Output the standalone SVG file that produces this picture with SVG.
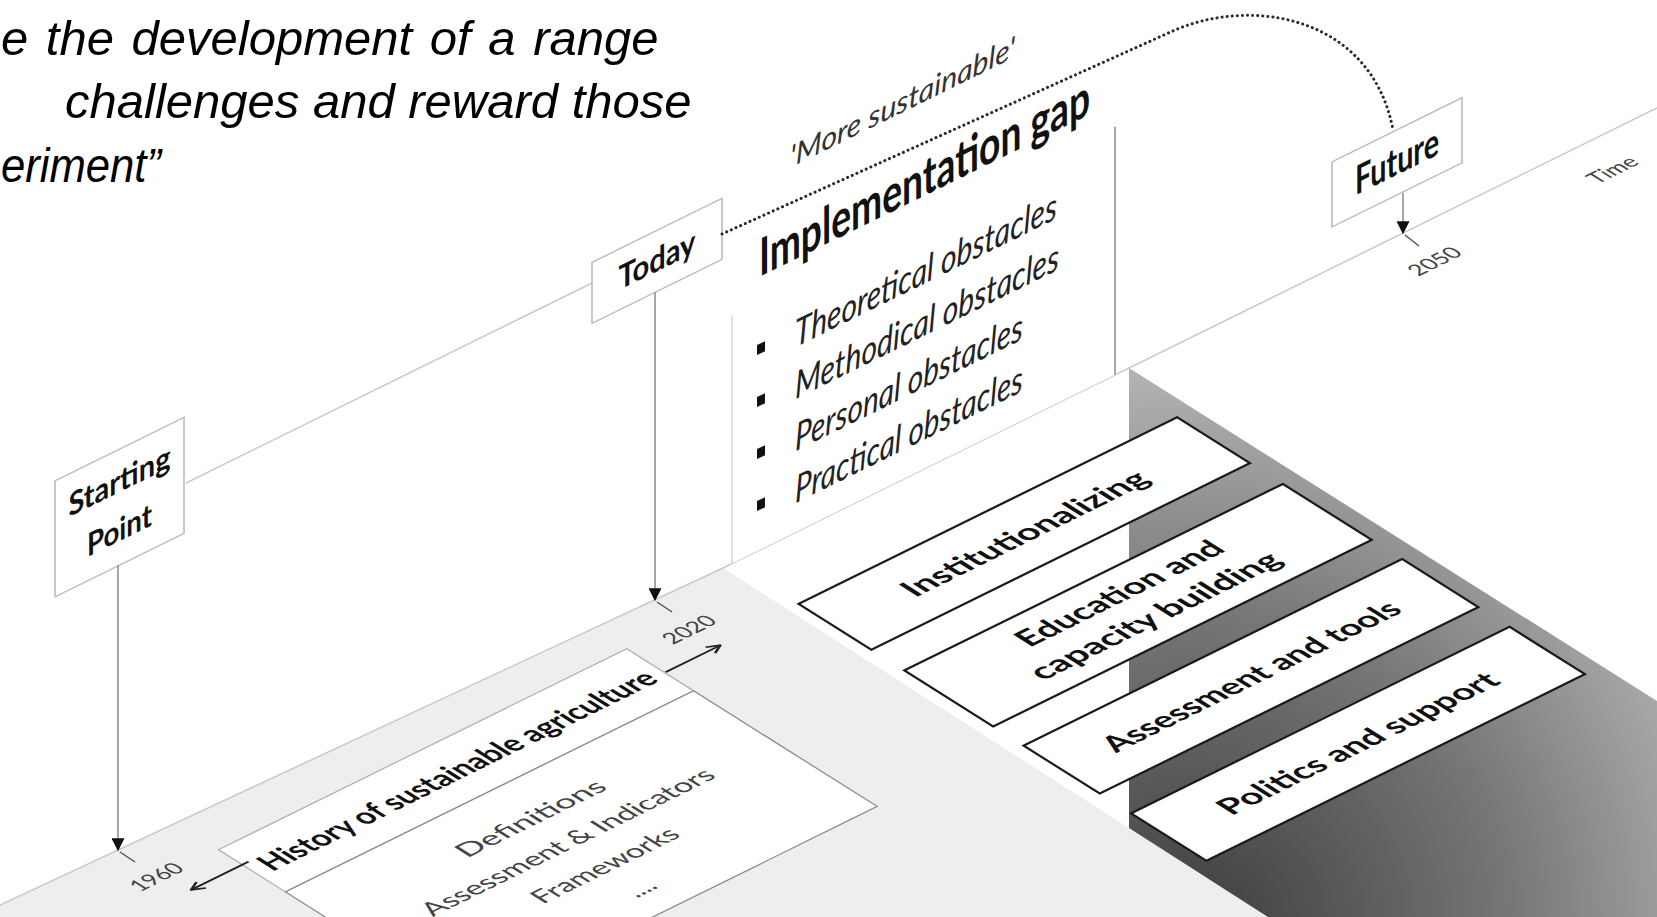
<svg xmlns="http://www.w3.org/2000/svg" width="1657" height="917" viewBox="0 0 1657 917">
<defs>
  <radialGradient id="darkGrad" gradientUnits="userSpaceOnUse" cx="1190" cy="935" r="640">
    <stop offset="0" stop-color="#3c3c3c"/>
    <stop offset="0.5" stop-color="#767676"/>
    <stop offset="1" stop-color="#c6c6c6"/>
  </radialGradient>
  <marker id="ahDown" viewBox="0 0 10 10" refX="9" refY="5" markerWidth="14" markerHeight="13" markerUnits="userSpaceOnUse" orient="auto">
    <path d="M0,0 L10,5 L0,10 z" fill="#111"/>
  </marker>
  <marker id="ahOpen" viewBox="0 0 10 10" refX="9" refY="5" markerWidth="14" markerHeight="14" markerUnits="userSpaceOnUse" orient="auto">
    <path d="M1,1 L9,5 L1,9" fill="none" stroke="#222" stroke-width="1.6"/>
  </marker>
</defs>
<style>
  .q { font-family: 'Liberation Sans', Arial, sans-serif; font-style: italic; font-size: 49px; fill: #000; }
  .axis { stroke: #c9c9c9; stroke-width: 1.5; fill: none; }
  .pole { stroke: #8a8a8a; stroke-width: 1.5; fill: none; }
  .tick { stroke: #555; stroke-width: 1.5; fill: none; }
  .sign { fill: #fff; stroke: #bcbcbc; stroke-width: 1.6; }
  .signt { font-family: Lato, 'Open Sans', sans-serif; font-weight: 700; fill: #111; text-anchor: middle; }
  .title { font-family: Lato, 'Open Sans', sans-serif; font-weight: 700; fill: #111; }
  .obs { font-family: Lato, 'Open Sans', sans-serif; font-style: italic; font-size: 38px; fill: #222; }
  .more { font-family: Lato, 'Open Sans', sans-serif; font-style: italic; font-size: 30px; fill: #333; }
  .box { fill: #fff; stroke: #1a1a1a; stroke-width: 2.6; }
  .boxt { font-family: Lato, 'Open Sans', sans-serif; font-weight: 700; font-size: 31px; fill: #111; text-anchor: middle; }
  .htitle { fill: #fff; stroke: #b0b0b0; stroke-width: 1.5; }
  .hcont { fill: #fff; stroke: #8c8c8c; stroke-width: 1.5; }
  .cont { font-family: Lato, 'Open Sans', sans-serif; font-size: 26px; fill: #444; text-anchor: middle; }
  .lbl { font-family: Lato, 'Open Sans', sans-serif; font-size: 22px; fill: #444; text-anchor: middle; }
  .bullet { fill: #111; }
  .dots { fill: none; stroke: #2a2a2a; stroke-width: 3; stroke-dasharray: 0.1 5; stroke-linecap: round; }
  .garrow { stroke: #222; stroke-width: 2.2; fill: none; }
</style>

<rect x="0" y="0" width="1657" height="917" fill="#fff"/>

<!-- floors -->
<g id="floors">
  <polygon points="1129,368 1657,701 1657,917 1129,917" fill="url(#darkGrad)"/>
  <polygon points="0,905 723,568 1268,917 0,917" fill="#eeeeee"/>
  <polyline class="axis" points="0,905 723,568 1657,108"/>
  <line class="axis" x1="186" y1="483" x2="592" y2="283"/>
</g>

<!-- ground plane nodes -->
<g id="hist-title" transform="matrix(0.897,-0.442,0.846,0.533,0,0)">
  <rect class="htitle" x="-707" y="1008" width="455" height="79"/>
  <text class="boxt" x="-479" y="1059" font-size="32" textLength="432" lengthAdjust="spacingAndGlyphs">History of sustainable agriculture</text>
</g>
<g id="hist-content" transform="matrix(0.897,-0.442,0.846,0.533,0,0)">
  <rect class="hcont" x="-707" y="1087" width="455" height="217"/>
  <text class="cont" x="-481" y="1146" textLength="158" lengthAdjust="spacingAndGlyphs">Definitions</text>
  <text class="cont" x="-481" y="1190" textLength="317" lengthAdjust="spacingAndGlyphs">Assessment &amp; Indicators</text>
  <text class="cont" x="-481" y="1234" textLength="155" lengthAdjust="spacingAndGlyphs">Frameworks</text>
  <text class="cont" x="-481" y="1276">....</text>
</g>
<g id="box-inst" transform="matrix(0.897,-0.442,0.846,0.533,0,0)">
  <rect class="box" x="-100" y="1050" width="422" height="86"/>
  <text class="boxt" x="111" y="1104" textLength="264" lengthAdjust="spacingAndGlyphs">Institutionalizing</text>
</g>
<g id="box-edu" transform="matrix(0.897,-0.442,0.846,0.533,0,0)">
  <rect class="box" x="-100" y="1175" width="422" height="105"/>
  <text class="boxt" x="111" y="1216" textLength="220" lengthAdjust="spacingAndGlyphs">Education and</text>
  <text class="boxt" x="111" y="1258" textLength="269" lengthAdjust="spacingAndGlyphs">capacity building</text>
</g>
<g id="box-assess" transform="matrix(0.897,-0.442,0.846,0.533,0,0)">
  <rect class="box" x="-100" y="1316" width="422" height="90"/>
  <text class="boxt" x="111" y="1372" textLength="321" lengthAdjust="spacingAndGlyphs">Assessment and tools</text>
</g>
<g id="box-politics" transform="matrix(0.897,-0.442,0.846,0.533,0,0)">
  <rect class="box" x="-100" y="1443" width="422" height="89"/>
  <text class="boxt" x="111" y="1498" textLength="302" lengthAdjust="spacingAndGlyphs">Politics and support</text>
</g>
<g id="time-labels" transform="matrix(0.897,-0.442,0.846,0.533,0,0)">
  <text class="lbl" x="-773" y="1012">1960</text>
  <text class="lbl" x="-194" y="1028">2020</text>
  <text class="lbl" x="638" y="1027">2050</text>
  <text class="lbl" x="840" y="1023">Time</text>
</g>

<!-- vertical plane nodes -->
<g id="panel-gap" transform="matrix(1,-0.4926,0,1,0,0)">
  <rect x="732" y="662" width="383" height="262" fill="#fff"/>
  <line x1="732" y1="676" x2="732" y2="924" stroke="#d6d6d6" stroke-width="1.5"/>
  <line x1="1115" y1="676" x2="1115" y2="924" stroke="#a8a8a8" stroke-width="2"/>
  <text class="title" x="759" y="651" font-size="52" textLength="331" lengthAdjust="spacingAndGlyphs">Implementation gap</text>
  <rect class="bullet" x="757" y="718" width="8" height="10"/>
  <rect class="bullet" x="757" y="770" width="8" height="10"/>
  <rect class="bullet" x="757" y="822" width="8" height="10"/>
  <rect class="bullet" x="757" y="874" width="8" height="10"/>
  <text class="obs" x="795" y="739" textLength="262" lengthAdjust="spacingAndGlyphs">Theoretical obstacles</text>
  <text class="obs" x="795" y="791" textLength="264" lengthAdjust="spacingAndGlyphs">Methodical obstacles</text>
  <text class="obs" x="795" y="843" textLength="228" lengthAdjust="spacingAndGlyphs">Personal obstacles</text>
  <text class="obs" x="795" y="895" textLength="228" lengthAdjust="spacingAndGlyphs">Practical obstacles</text>
</g>
<g id="sign-start" transform="matrix(1,-0.4926,0,1,0,0)">
  <rect class="sign" x="55" y="508" width="129" height="116"/>
  <text class="signt" x="119.5" y="551" font-size="32" textLength="102" lengthAdjust="spacingAndGlyphs">Starting</text>
  <text class="signt" x="119.5" y="600" font-size="32" textLength="65" lengthAdjust="spacingAndGlyphs">Point</text>
</g>
<g id="sign-today" transform="matrix(1,-0.4926,0,1,0,0)">
  <rect class="sign" x="592" y="554" width="130" height="61"/>
  <text class="signt" x="657" y="595" font-size="33" textLength="77" lengthAdjust="spacingAndGlyphs">Today</text>
</g>
<g id="sign-future" transform="matrix(1,-0.4926,0,1,0,0)">
  <rect class="sign" x="1332" y="818" width="130" height="65"/>
  <text class="signt" x="1397" y="863" font-size="40" textLength="84" lengthAdjust="spacingAndGlyphs">Future</text>
</g>
<g id="label-more" transform="matrix(1,-0.4926,0,1,0,0)">
  <text class="more" x="790" y="557" textLength="225" lengthAdjust="spacingAndGlyphs">'More sustainable'</text>
</g>

<!-- connectors -->
<g id="connectors">
  <line class="pole" x1="118" y1="565" x2="118" y2="850" marker-end="url(#ahDown)"/>
  <line class="pole" x1="655" y1="292" x2="655" y2="600" marker-end="url(#ahDown)"/>
  <line class="pole" x1="1403" y1="193" x2="1403" y2="233" marker-end="url(#ahDown)"/>
  <line class="tick" x1="120" y1="852" x2="135" y2="862"/>
  <line class="tick" x1="657" y1="602" x2="672" y2="612"/>
  <line class="tick" x1="1405" y1="235" x2="1419" y2="246"/>
  <path class="dots" d="M722,234 L1175,30 C1255,-4 1372,18 1393,130"/>
  <g transform="matrix(0.897,-0.442,0.846,0.533,0,0)">
    <line class="garrow" x1="-700" y1="1036" x2="-764" y2="1036" marker-end="url(#ahOpen)"/>
    <line class="garrow" x1="-251" y1="1053" x2="-190" y2="1053" marker-end="url(#ahOpen)"/>
  </g>
</g>

<!-- quote -->
<g id="quote">
  <text class="q" x="1" y="55" font-size="50" word-spacing="4">e the development of a range</text>
  <text class="q" x="65" y="118">challenges and reward those</text>
  <text class="q" x="1" y="182" textLength="160" lengthAdjust="spacingAndGlyphs">eriment”</text>
</g>
</svg>
